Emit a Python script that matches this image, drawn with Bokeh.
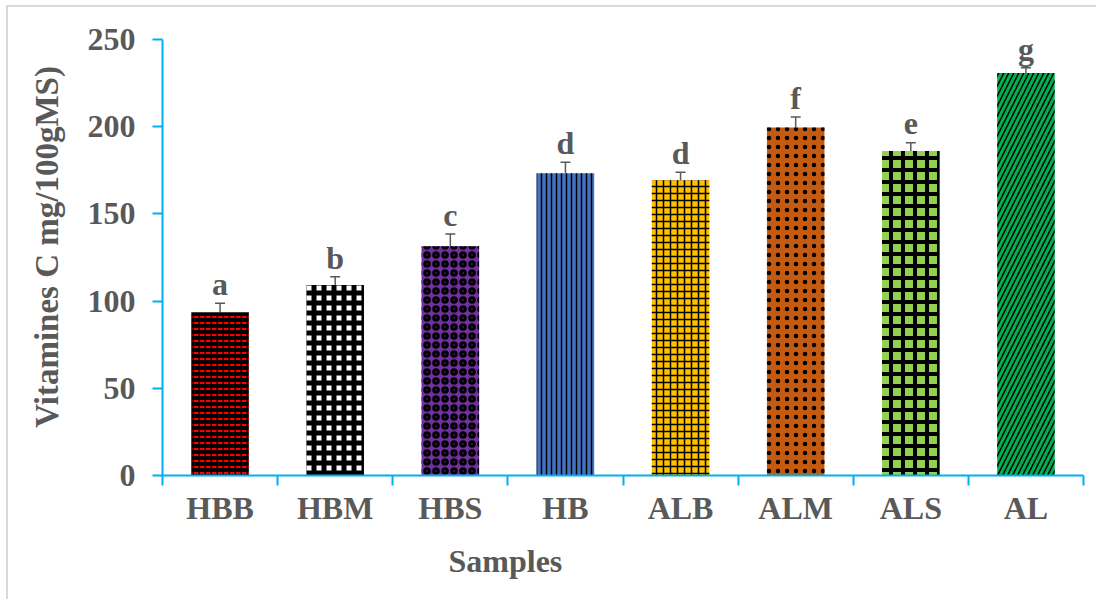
from bokeh.plotting import figure
from bokeh.models import (Range1d, FixedTicker, Whisker, TeeHead, ColumnDataSource, Title)
from bokeh.core.properties import value
from bokeh.embed import file_html
from bokeh.resources import INLINE

samples = ["HBB", "HBM", "HBS", "HB", "ALB", "ALM", "ALS", "AL"]
vitc = [93.6, 109.2, 131.5, 173.3, 169.2, 199.5, 186.0, 230.7]
errors = [5.2, 4.7, 7.0, 6.3, 4.7, 6.0, 4.8, 3.0]
letters = ["a", "b", "c", "d", "d", "f", "e", "g"]
y_ticks = [0, 50, 100, 150, 200, 250]

fills = ["#000000", "#FFFFFF", "#7030A0", "#4472C4", "#FFC000", "#C55A11", "#92D050", "#00B050"]
hatches = ["horizontal_dash", "cross", "ring", "vertical_line", "cross", "dot", "cross", "right_diagonal_line"]
hatch_colors = ["#FF0000", "#000000", "#000000", "#000000", "#000000", "#000000", "#000000", "#000000"]
hatch_scales = [6, 10, 9, 5, 7, 9, 12, 10]
hatch_weights = [2, 5, 3, 1.5, 1.5, 1, 4, 1.5]

FONT = value("Liberation Serif")
GREY = "#595959"
BLUE = "#00B0F0"

n = len(samples)
centers = [i + 0.5 for i in range(n)]
bounds = list(range(n + 1))

src = ColumnDataSource(dict(
    x=centers, y=vitc, upper=[v + e for v, e in zip(vitc, errors)], letters=letters,
    fill=fills, hatch=hatches, hcol=hatch_colors, hscale=hatch_scales, hweight=hatch_weights,
))

p = figure(
    x_range=Range1d(0, n),
    y_range=Range1d(0, 262),
    width=1090, height=594,
    min_border_left=154, min_border_right=15, min_border_top=11, min_border_bottom=126,
    output_backend="svg", toolbar_location=None,
)
p.styles = {"border-top": "2px solid #d9d9d9", "border-left": "2px solid #d9d9d9",
            "margin-left": "6px", "margin-top": "5px"}
p.outline_line_color = None
p.grid.visible = False
p.background_fill_color = "white"
p.border_fill_color = "white"

p.vbar(x="x", top="y", width=0.5, source=src, fill_color="fill", line_color=None,
       hatch_pattern="hatch", hatch_color="hcol", hatch_scale="hscale", hatch_weight="hweight")

p.add_layout(Whisker(source=src, base="x", lower="y", upper="upper",
                     line_color=GREY, line_width=1.5, lower_head=None,
                     upper_head=TeeHead(size=10, line_color=GREY, line_width=1.5)))

p.text(x="x", y="upper", text="letters", source=src, text_align="center",
       text_baseline="alphabetic", y_offset=-19, text_font=FONT, text_font_style="bold",
       text_font_size="32px", text_color=GREY)

# y axis
ya = p.yaxis[0]
ya.ticker = FixedTicker(ticks=y_ticks)
ya.bounds = (0, 250)
ya.axis_line_color = BLUE
ya.axis_line_width = 2
ya.major_tick_line_color = BLUE
ya.major_tick_line_width = 2
ya.major_tick_out = 10
ya.major_tick_in = 0
ya.minor_tick_line_color = None
ya.major_label_text_font = "Liberation Serif"
ya.major_label_text_font_style = "bold"
ya.major_label_text_font_size = "32px"
ya.major_label_text_color = GREY
ya.major_label_standoff = 17
ya.axis_label = "Vitamines C mg/100gMS)"
ya.axis_label_text_font = "Liberation Serif"
ya.axis_label_text_font_style = "bold"
ya.axis_label_text_font_size = "33px"
ya.axis_label_text_color = GREY
ya.axis_label_standoff = 20

# x axis: labels at category centres, ticks at category boundaries
xa = p.xaxis[0]
xa.ticker = FixedTicker(ticks=centers, minor_ticks=bounds)
xa.major_label_overrides = {c: s for c, s in zip(centers, samples)}
xa.axis_line_color = BLUE
xa.axis_line_width = 2
xa.major_tick_line_color = None
xa.major_tick_out = 0
xa.major_tick_in = 0
xa.minor_tick_line_color = BLUE
xa.minor_tick_line_width = 2
xa.minor_tick_out = 10
xa.minor_tick_in = 0
xa.major_label_text_font = "Liberation Serif"
xa.major_label_text_font_style = "bold"
xa.major_label_text_font_size = "32px"
xa.major_label_text_color = GREY
xa.major_label_standoff = 4

p.add_layout(Title(text="Samples", align="left", offset=286, standoff=24,
                   text_font="Liberation Serif", text_font_style="bold",
                   text_font_size="32px", text_color=GREY), "below")

open("out.html", "w").write(file_html(p, INLINE))
